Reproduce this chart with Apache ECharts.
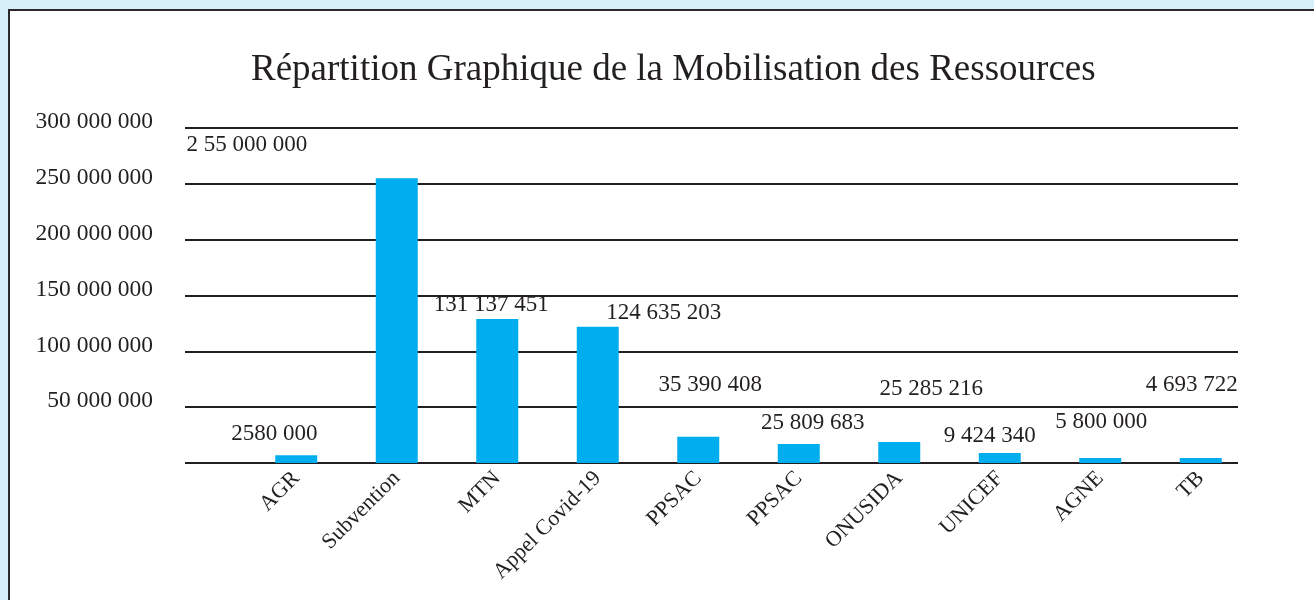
<html>
<head>
    <meta charset="utf-8">
    <title>Répartition Graphique de la Mobilisation des Ressources</title>
    <script src="https://cdn.jsdelivr.net/npm/echarts@6/dist/echarts.min.js"></script>
    <style>
        body { margin: 0; background: #d6f0fa; overflow: hidden; }
        #box { position: absolute; left: 8px; top: 9px; width: 1330px; height: 620px;
               border: 2px solid #2a2a2a; background: #fff; }
        #main { position: absolute; left: 0; top: 0; width: 1314px; height: 600px; }
    </style>
</head>
<body>
    <div id="box"></div>
    <div id="main"></div>
    <script type="text/javascript">
        // données
        var categories = ['AGR', 'Subvention', 'MTN', 'Appel Covid-19', 'PPSAC', 'PPSAC', 'ONUSIDA', 'UNICEF', 'AGNE', 'TB'];
        var values = [7000000, 255000000, 129000000, 122000000, 23500000, 17000000, 18800000, 9000000, 4500000, 4500000];
        var labels = ['2580 000', '2 55 000 000', '131 137 451', '124 635 203', '35 390 408',
                      '25 809 683', '25 285 216', '9 424 340', '5 800 000', '4 693 722'];
        var yTicks = [0, 50000000, 100000000, 150000000, 200000000, 250000000, 300000000];

        // décalage de chaque étiquette (comme sur l'original)
        var labelOffsets = [[-22, -10], [-150, -22], [-6, -3], [66, -3], [12, -41],
                            [14, -10], [32, -42], [-10, -6], [1, -25], [-9, -62]];

        var font = 'Liberation Serif';
        var ink = '#231f20';

        function fmt(v) {
            return String(v).replace(/\B(?=(\d{3})+(?!\d))/g, ' ');
        }

        var barData = [];
        for (var i = 0; i < values.length; i++) {
            barData.push({
                value: values[i],
                label: { formatter: labels[i], offset: labelOffsets[i] }
            });
        }

        var myChart = echarts.init(document.getElementById('main'));
        var option = {
            backgroundColor: 'transparent',
            title: {
                text: 'Répartition Graphique de la Mobilisation des Ressources',
                left: 246,
                top: 47,
                textStyle: { fontFamily: font, fontSize: 37, fontWeight: 'normal', color: ink }
            },
            grid: [
                { left: 185, right: 76, top: 128, height: 335 },
                { left: 246, width: 1005, top: 128, height: 335 }
            ],
            xAxis: [
                { type: 'category', gridIndex: 0, data: categories, show: false },
                {
                    type: 'category', gridIndex: 1, data: categories,
                    axisLine: { show: false }, axisTick: { show: false },
                    axisLabel: { rotate: 45, margin: 12, fontFamily: font, fontSize: 22, color: ink, interval: 0 }
                }
            ],
            yAxis: [
                {
                    type: 'value', gridIndex: 0, min: 0, max: yTicks[yTicks.length - 1], interval: yTicks[1],
                    axisLine: { show: false }, axisTick: { show: false },
                    splitLine: { lineStyle: { color: ink, width: 2 } },
                    axisLabel: {
                        showMinLabel: false, margin: 32, verticalAlign: 'bottom', lineHeight: 12,
                        fontFamily: font, fontSize: 23.5, color: ink,
                        formatter: fmt
                    }
                },
                {
                    type: 'value', gridIndex: 1, min: 0, max: yTicks[yTicks.length - 1], interval: yTicks[1],
                    show: false, splitLine: { show: false }
                }
            ],
            series: [
                {
                    type: 'bar',
                    xAxisIndex: 1,
                    yAxisIndex: 1,
                    barWidth: 42,
                    itemStyle: { color: '#00aeef' },
                    label: {
                        show: true, position: 'top', distance: 0,
                        fontFamily: font, fontSize: 23, lineHeight: 22, color: ink
                    },
                    data: barData
                }
            ]
        };
        myChart.setOption(option);
    </script>
</body>
</html>
